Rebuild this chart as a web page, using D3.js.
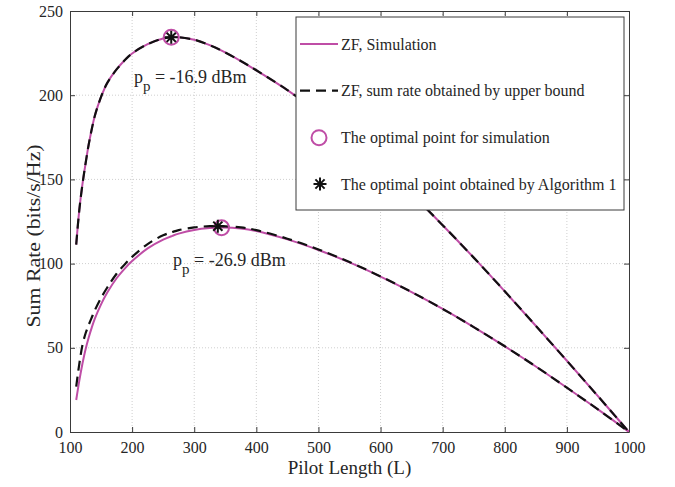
<!DOCTYPE html>
<html>
<head>
<meta charset="utf-8">
<script src="https://cdn.jsdelivr.net/npm/d3@7"></script>
<style>
    body { margin: 0; background: #fff; }
    text { font-family: "Liberation Serif", "Times New Roman", serif; fill: #262626; }
</style>
</head>
<body>
<div id="chart"></div>
<script>
// Pilot length grid (L) shared by all curves
const pilotLength = [110, 115, 120, 125, 130, 135, 140, 150, 160, 175, 190, 200, 225, 250, 265, 275,
    300, 325, 345, 375, 400, 450, 500, 550, 600, 650, 700, 750, 800, 850, 900, 950, 1000];

// p_p = -16.9 dBm
const simHigh = [111.3, 131.9, 147, 159.3, 170.5, 179.8, 187.8, 199, 207.3, 215.3, 221.5, 224.8, 230.3, 233.7, 234.45, 234.45,
    232.95, 229.7, 226.3, 220.3, 214.8, 203.05, 189.8, 175.05, 158.8, 141.3, 122.8, 103.55, 83.55, 63.05, 42.3, 21.3, 0];
const boundHigh = [111.3, 131.9, 147, 159.3, 170.5, 179.8, 187.8, 199, 207.3, 215.3, 221.5, 224.8, 230.3, 233.7, 234.45, 234.45,
    232.95, 229.7, 226.3, 220.3, 214.8, 203.05, 189.8, 175.05, 158.8, 141.3, 122.8, 103.55, 83.55, 63.05, 42.3, 21.3, 0];

// p_p = -26.9 dBm
const simLow = [19, 30.5, 40.5, 49, 56, 62, 67.3, 75.8, 82.8, 91.3, 97.8, 101.5, 109, 114.2, 116.5, 117.8,
    120, 121.1, 121.4, 120.9, 119.4, 114.4, 108.1, 100.7, 92.3, 83.1, 73.1, 62.3, 50.9, 38.9, 26.3, 13.4, 0];
const boundLow = [27, 40.5, 51.5, 58.5, 63.5, 68, 72.3, 79.6, 85.8, 94, 100.3, 104, 111.6, 116.8, 118.8, 119.9,
    121.5, 122.2, 122.2, 121.5, 119.9, 114.8, 108.4, 100.9, 92.4, 83.1, 73.1, 62.3, 50.9, 38.9, 26.3, 13.4, 0];

// Optimal points
const optSimL = [263, 344];
const optSimR = [234.4, 121.3];
const optAlgL = [263, 338];
const optAlgR = [234.4, 122.2];

// Annotations (anchored in data units)
const noteL = [203, 266];
const noteR = [207, 98.5];
const noteText = [" = -16.9 dBm", " = -26.9 dBm"];

const xTicks = [100, 200, 300, 400, 500, 600, 700, 800, 900, 1000];
const yTicks = [0, 50, 100, 150, 200, 250];
const legendLabels = [
    "ZF, Simulation",
    "ZF, sum rate obtained by upper bound",
    "The optimal point for simulation",
    "The optimal point obtained by Algorithm 1"
];

const width = 675, height = 487;
const margin = { top: 11, right: 46, bottom: 55, left: 70 };
const innerW = width - margin.left - margin.right;
const innerH = height - margin.top - margin.bottom;
const magenta = "#bf4da6";
const frameColor = "#3a3a3a";

const svg = d3.select("#chart").append("svg")
    .attr("width", width)
    .attr("height", height);

const g = svg.append("g").attr("transform", `translate(${margin.left},${margin.top})`);

const x = d3.scaleLinear().domain([100, 1000]).range([0, innerW]);
const y = d3.scaleLinear().domain([0, 250]).range([innerH, 0]);

// Grid
g.append("g").selectAll("line")
    .data(xTicks.slice(1, -1))
    .join("line")
    .attr("x1", d => x(d)).attr("x2", d => x(d))
    .attr("y1", 0).attr("y2", innerH)
    .attr("stroke", "#cfcfcf").attr("stroke-dasharray", "1,2");
g.append("g").selectAll("line")
    .data(yTicks.slice(1, -1))
    .join("line")
    .attr("y1", d => y(d)).attr("y2", d => y(d))
    .attr("x1", 0).attr("x2", innerW)
    .attr("stroke", "#cfcfcf").attr("stroke-dasharray", "1,2");

// Curves
const line = d3.line()
    .x((d, i) => x(pilotLength[i]))
    .y(d => y(d))
    .curve(d3.curveCatmullRom.alpha(0.5));

[simHigh, simLow].forEach(s => {
    g.append("path").datum(s)
        .attr("d", line)
        .attr("fill", "none")
        .attr("stroke", magenta)
        .attr("stroke-width", 2);
});
[boundHigh, boundLow].forEach(s => {
    g.append("path").datum(s)
        .attr("d", line)
        .attr("fill", "none")
        .attr("stroke", "#111")
        .attr("stroke-width", 2.2)
        .attr("stroke-dasharray", "10,6");
});

// star marker (MATLAB '*')
function starPath(r) {
    const a = r * Math.SQRT1_2;
    return `M${-r},0L${r},0M0,${-r}L0,${r}M${-a},${-a}L${a},${a}M${-a},${a}L${a},${-a}`;
}

g.append("g").selectAll("circle")
    .data(optSimL)
    .join("circle")
    .attr("cx", d => x(d))
    .attr("cy", (d, i) => y(optSimR[i]))
    .attr("r", 7.5)
    .attr("fill", "none")
    .attr("stroke", magenta)
    .attr("stroke-width", 2);

g.append("g").selectAll("path")
    .data(optAlgL)
    .join("path")
    .attr("transform", (d, i) => `translate(${x(d)},${y(optAlgR[i])})`)
    .attr("d", starPath(6.5))
    .attr("stroke", "#111")
    .attr("stroke-width", 2);

// p_p annotations
noteL.forEach((L, i) => {
    const t = g.append("text")
        .attr("x", x(L))
        .attr("y", y(noteR[i]))
        .attr("font-size", 18);
    t.append("tspan").text("p");
    t.append("tspan").attr("dy", 8).attr("font-size", 15).text("p");
    t.append("tspan").attr("dy", -8).text(noteText[i]);
});

// Legend
const legend = g.append("g").attr("transform", `translate(${296 - margin.left},${17 - margin.top})`);
legend.append("rect")
    .attr("width", 328).attr("height", 193)
    .attr("fill", "#fff")
    .attr("stroke", frameColor)
    .attr("stroke-width", 1);

const rowY = [27, 73.7, 120.7, 167];
legend.append("line")
    .attr("x1", 4).attr("x2", 42).attr("y1", rowY[0]).attr("y2", rowY[0])
    .attr("stroke", magenta).attr("stroke-width", 2);
legend.append("line")
    .attr("x1", 4).attr("x2", 42).attr("y1", rowY[1]).attr("y2", rowY[1])
    .attr("stroke", "#111").attr("stroke-width", 2.2).attr("stroke-dasharray", "10,6");
legend.append("circle")
    .attr("cx", 23).attr("cy", rowY[2]).attr("r", 7.5)
    .attr("fill", "none").attr("stroke", magenta).attr("stroke-width", 2);
legend.append("path")
    .attr("transform", `translate(24,${rowY[3]})`)
    .attr("d", starPath(6.5))
    .attr("stroke", "#111").attr("stroke-width", 2);

legend.selectAll("text.lab")
    .data(legendLabels)
    .join("text")
    .attr("class", "lab")
    .attr("x", 45)
    .attr("y", (d, i) => rowY[i])
    .attr("dy", "0.35em")
    .attr("font-size", 16)
    .text(d => d);

// Axes (box with inward ticks on all sides)
g.append("g")
    .attr("transform", `translate(0,${innerH})`)
    .call(d3.axisBottom(x).tickValues(xTicks).tickFormat(d3.format("d"))
        .tickSize(-5).tickSizeOuter(0).tickPadding(10));
g.append("g")
    .call(d3.axisLeft(y).tickValues(yTicks).tickFormat(d3.format("d"))
        .tickSize(-5).tickSizeOuter(0).tickPadding(7));
g.append("g")
    .call(d3.axisTop(x).tickValues(xTicks).tickSize(-5).tickSizeOuter(0).tickFormat(""));
g.append("g")
    .attr("transform", `translate(${innerW},0)`)
    .call(d3.axisRight(y).tickValues(yTicks).tickSize(-5).tickSizeOuter(0).tickFormat(""));

g.selectAll(".domain, .tick line").attr("stroke", frameColor);
g.selectAll(".tick text")
    .attr("font-size", 16)
    .attr("font-family", "'Liberation Serif', 'Times New Roman', serif")
    .attr("fill", "#262626");

// Axis titles
svg.append("text")
    .attr("x", margin.left + innerW / 2)
    .attr("y", 474)
    .attr("text-anchor", "middle")
    .attr("font-size", 19)
    .text("Pilot Length (L)");

svg.append("text")
    .attr("transform", "translate(40,236) rotate(-90) scale(1.15,1)")
    .attr("text-anchor", "middle")
    .attr("font-size", 19)
    .text("Sum Rate (bits/s/Hz)");
</script>
</body>
</html>
